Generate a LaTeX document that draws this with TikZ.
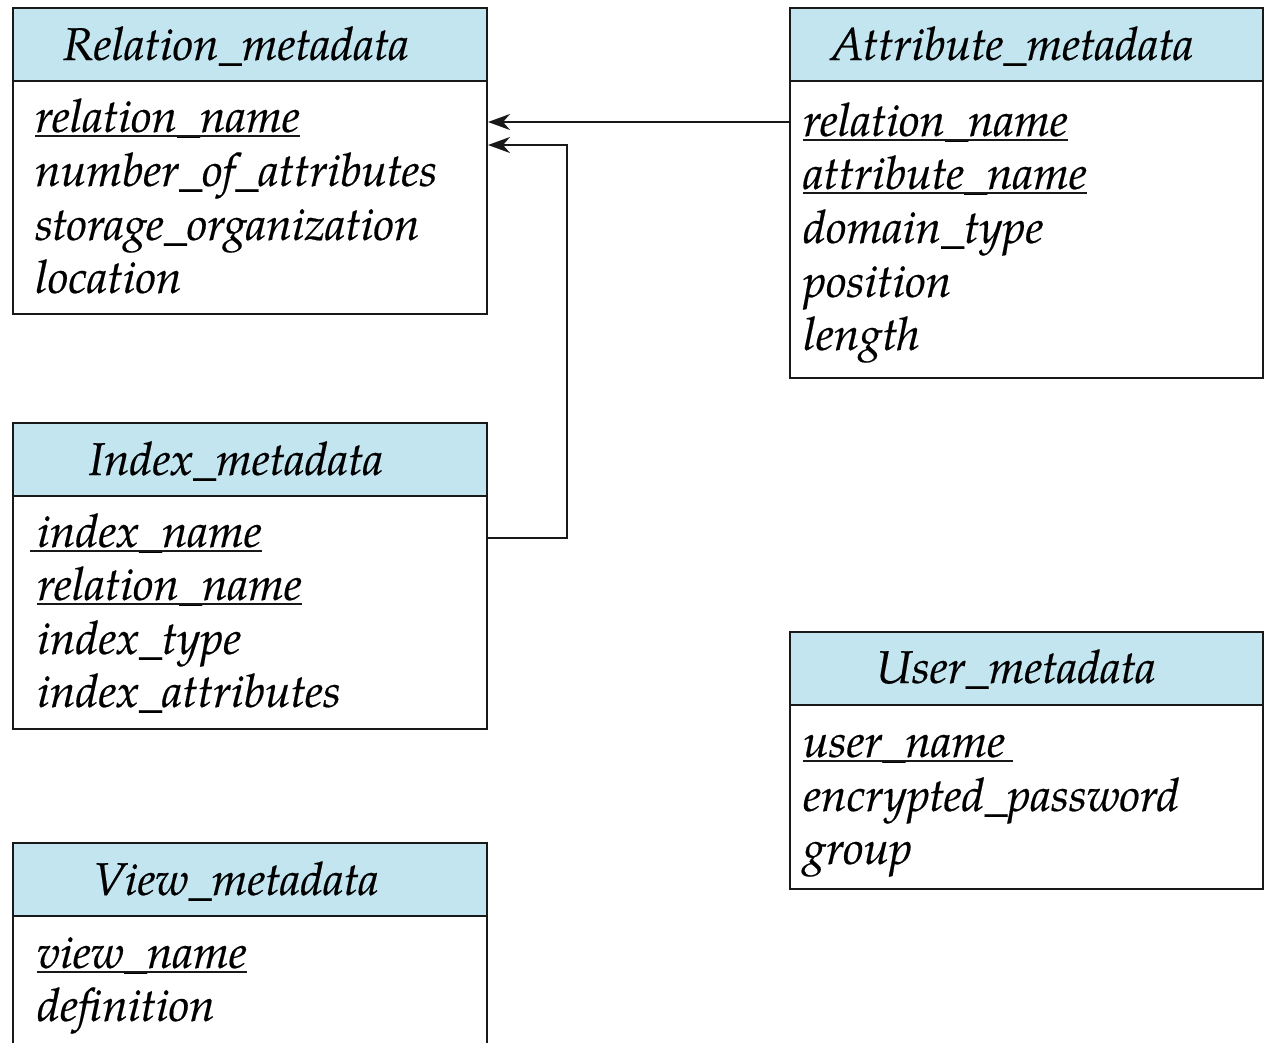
\documentclass[tikz,border=0pt]{standalone}
\usepackage{fontspec}
\setmainfont{texgyrepagella}[Extension=.otf, UprightFont=*-regular, ItalicFont=*-italic, BoldFont=*-bold, BoldItalicFont=*-bolditalic, ItalicFeatures={FakeBold=0.4}]
\usetikzlibrary{arrows.meta}
\definecolor{hdrblue}{RGB}{194,229,240}
\begin{document}
\begin{tikzpicture}[x=1pt,y=-1pt,
  box/.style={draw=black!90, line width=2pt, inner sep=0pt, anchor=north west, minimum width=474pt},
  hdr/.style={box, fill=hdrblue, minimum height=73pt},
  txt/.style={inner sep=0pt, anchor=base west, font=\fontsize{46}{54}\selectfont\itshape},
  ttl/.style={inner sep=0pt, anchor=base, font=\fontsize{46}{54}\selectfont\itshape},
  ul/.style={line width=1.6pt, black!90},
  link/.style={line width=2pt, black!90, -{Stealth[length=22pt,width=16pt,inset=7pt]}}]
\useasboundingbox (0,0) rectangle (1266,1042);
\fill[white] (0,0) rectangle (1266,1042);
% Relation_metadata
\node[box, minimum height=306pt] (relB) at (12,7) {};
\node[hdr] (relH) at (12,7) {};
\node[ttl] (relT) at (236,60) {Relation\_metadata};
\node[txt] (rel1) at (35,132) {relation\_name};
\node[txt] (rel2) at (35,186) {number\_of\_attributes};
\node[txt] (rel3) at (35,240) {storage\_organization};
\node[txt] (rel4) at (35,293) {location};
\draw[ul] ([yshift=-4pt]rel1.base west) -- ([yshift=-4pt]rel1.base east);
% Attribute_metadata
\node[box, minimum width=473pt, minimum height=370pt] (attB) at (789,7) {};
\node[hdr, minimum width=473pt] (attH) at (789,7) {};
\node[ttl] (attT) at (1012,60) {Attribute\_metadata};
\node[txt] (att1) at (803,136) {relation\_name};
\node[txt] (att2) at (803,189) {attribute\_name};
\node[txt] (att3) at (803,243) {domain\_type};
\node[txt] (att4) at (803,297) {position};
\node[txt] (att5) at (803,350) {length};
\draw[ul] ([yshift=-4pt]att1.base west) -- ([yshift=-4pt]att1.base east);
\draw[ul] ([yshift=-4pt]att2.base west) -- ([yshift=-4pt]att2.base east);
% Index_metadata
\node[box, minimum height=306pt] (idxB) at (12,422) {};
\node[hdr] (idxH) at (12,422) {};
\node[ttl] (idxT) at (236,475) {Index\_metadata};
\node[txt] (idx1) at (37,547) {index\_name};
\node[txt] (idx2) at (37,600) {relation\_name};
\node[txt] (idx3) at (37,654) {index\_type};
\node[txt] (idx4) at (37,707) {index\_attributes};
\draw[ul] ([yshift=-4pt,xshift=-7pt]idx1.base west) -- ([yshift=-4pt]idx1.base east);
\draw[ul] ([yshift=-4pt]idx2.base west) -- ([yshift=-4pt]idx2.base east);
% User_metadata
\node[box, minimum width=473pt, minimum height=257pt] (usrB) at (789,631) {};
\node[hdr, minimum width=473pt] (usrH) at (789,631) {};
\node[ttl] (usrT) at (1016,683) {User\_metadata};
\node[txt] (usr1) at (803,757) {user\_name};
\node[txt] (usr2) at (803,811) {encrypted\_password};
\node[txt] (usr3) at (803,864) {group};
\draw[ul] ([yshift=-4pt]usr1.base west) -- ([yshift=-4pt,xshift=8pt]usr1.base east);
% View_metadata
\node[box, minimum height=260pt] (viwB) at (12,842) {};
\node[hdr] (viwH) at (12,842) {};
\node[ttl] (viwT) at (236,895) {View\_metadata};
\node[txt] (viw1) at (37,968) {view\_name};
\node[txt] (viw2) at (37,1021) {definition};
\draw[ul] ([yshift=-4pt]viw1.base west) -- ([yshift=-4pt]viw1.base east);
% connectors
\coordinate (bend1) at (567,538);
\coordinate (bend2) at (567,145);
\draw[link] (attB.west |- 0,122) -- (relB.east |- 0,122);
\draw[link] (idxB.east |- bend1) -- (bend1) -- (bend2) -- (relB.east |- bend2);
\end{tikzpicture}
\end{document}
